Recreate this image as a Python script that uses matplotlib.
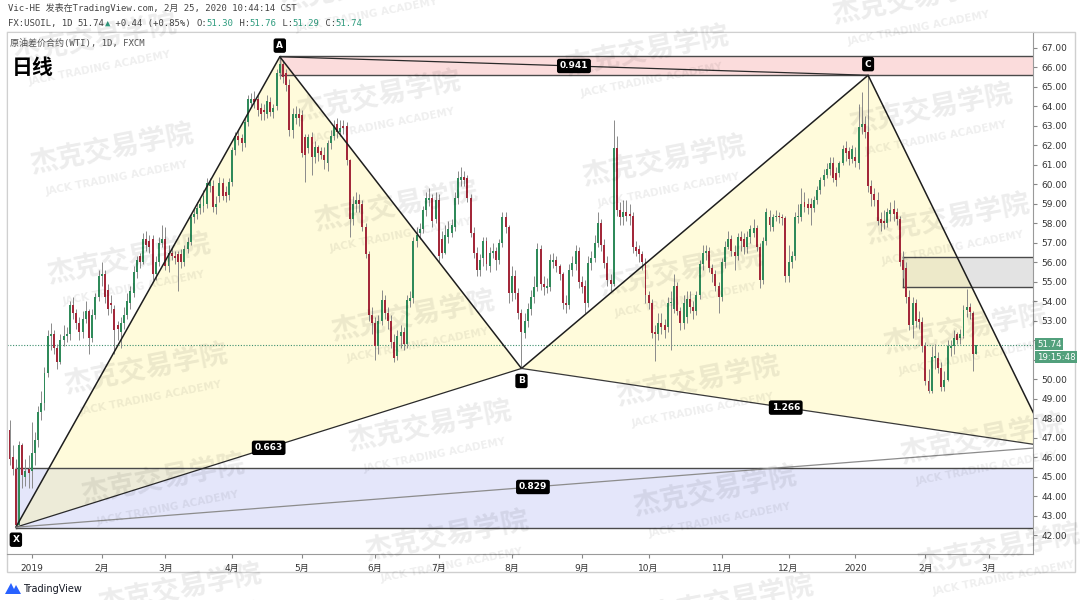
import numpy as np
import pandas as pd
import matplotlib
matplotlib.use("Agg")
import matplotlib.pyplot as plt
from matplotlib.patches import Polygon, Rectangle

plt.rcParams['font.family'] = ['DejaVu Sans', 'Noto Sans CJK SC']

# ---------------- daily OHLC, FX:USOIL ----------------
opens = [
    47.4, 46.0, 45.4, 42.5, 46.6, 45.0, 45.4,  # Dec 2018
    45.3, 46.2, 46.9, 48.3, 48.8, 50.3, 52.2, 52.3, 51.6, 50.9, 52.0, 52.2, 52.3, 53.8, 53.4, 52.9, 52.4, 53.1, 53.5, 52.1, 53.3, 54.2,
    55.3, 55.4, 54.6, 53.9, 53.6, 52.8, 52.4, 52.9, 53.3, 53.9, 54.4, 55.5, 56.3, 56.0, 57.2, 57.1, 57.2, 55.4, 56.0, 57.0,
    57.2, 55.8, 56.5, 56.3, 56.4, 56.4, 56.0, 56.7, 57.05, 58.3, 58.5, 58.8, 58.9, 59.0, 59.9, 59.9, 58.85, 59.4, 60.05, 59.6, 59.45,
    60.1, 61.76, 62.5, 62.4, 62.1, 63.2, 64.2, 64.4, 64.4, 63.9, 63.8, 63.6, 64.25, 63.7, 64.0, 65.7, 66.2, 65.7, 65.1, 62.8, 63.4, 63.6,
    63.56, 62.45, 61.85, 62.45, 61.4, 61.9, 61.7, 61.5, 61.1, 62.1, 62.5, 63.1, 62.7, 63.0, 63.0, 61.25, 58.2, 59.0, 59.2, 59.0, 57.8, 56.4, 53.3,
    52.9, 51.7, 53.0, 54.06, 53.4, 53.0, 51.9, 51.2, 52.2, 52.4, 51.8, 54.0, 54.15, 57.1, 57.5, 57.7, 58.7, 59.2, 59.3, 58.2,
    59.2, 57.2, 56.5, 57.3, 57.5, 57.8, 59.3, 60.2, 60.4, 60.3, 59.3, 57.5, 56.5, 55.6, 56.2, 57.1, 55.8, 56.5, 56.6, 56.1, 57.0, 58.3, 57.8,
    54.4, 55.3, 54.4, 53.4, 52.35, 53.0, 53.6, 54.2, 54.75, 56.7, 54.9, 54.7, 54.75, 56.0, 56.1, 55.8, 55.4, 53.9, 53.8, 55.6, 55.9, 56.6,
    55.0, 54.8, 53.9, 55.95, 56.2, 57.0, 58.0, 56.9, 55.95, 55.1, 54.9, 61.85, 58.7, 58.3, 58.6, 58.5, 58.4, 56.8, 56.7, 56.4, 56.0,
    54.3, 53.9, 52.4, 52.3, 52.9, 52.8, 52.7, 53.9, 53.6, 54.8, 53.5, 52.9, 53.2, 54.1, 53.7, 53.5, 54.3, 55.9, 56.5, 56.6, 55.7, 55.4, 54.8,
    54.2, 56.0, 56.8, 57.2, 56.55, 56.3, 57.3, 57.2, 56.8, 57.3, 57.5, 57.75, 56.8, 55.1, 57.1, 58.3, 57.8, 58.3, 58.4, 58.3, 58.25,
    55.3, 56.0, 56.3, 58.3, 58.3, 59.1, 59.0, 59.0, 58.8, 59.2, 59.7, 60.2, 60.5, 60.8, 61.1, 60.6, 60.6, 61.1, 61.85, 61.7, 61.3,
    61.4, 61.1, 62.95, 63.1, 62.7, 59.9, 59.5, 59.2, 58.2, 58.1, 58.0, 58.5, 58.75, 58.6, 58.2, 56.1, 55.7, 54.2, 52.8, 53.9, 53.1, 52.95,
    51.7, 49.9, 49.4, 51.1, 51.1, 50.55, 49.6, 49.95, 51.6, 51.7, 52.3, 52.1, 52.2, 53.55, 53.7, 53.4, 51.30,
]
highs = [
    47.9, 46.6, 45.9, 46.8, 46.7, 45.9, 46.1,
    47.8, 47.3, 48.6, 49.4, 50.6, 52.5, 52.9, 52.5, 51.8, 52.3, 52.8, 52.7, 54.0, 54.2, 53.6, 53.2, 53.5, 54.0, 53.6, 53.6, 54.4, 55.6,
    56.0, 55.6, 54.9, 54.3, 53.8, 53.0, 53.2, 53.7, 54.4, 54.8, 55.8, 56.3, 56.5, 57.5, 57.6, 57.4, 57.4, 56.3, 57.3, 57.9,
    57.8, 56.9, 56.8, 56.6, 56.6, 56.7, 56.9, 57.3, 58.5, 58.8, 59.1, 59.3, 59.7, 60.3, 60.3, 60.2, 59.4, 60.4, 60.3, 59.9, 60.3,
    61.9, 62.7, 62.8, 62.6, 63.4, 64.6, 64.7, 64.8, 64.6, 64.2, 64.1, 64.6, 64.5, 64.1, 65.9, 66.55, 66.4, 65.9, 65.4, 63.9, 64.0, 63.9,
    63.8, 62.6, 62.6, 62.7, 62.2, 62.0, 61.9, 61.9, 62.3, 62.8, 63.3, 63.4, 63.3, 63.3, 63.2, 61.3, 59.4, 59.6, 59.5, 59.2, 58.0, 56.6, 53.7,
    53.2, 53.3, 54.6, 54.3, 53.7, 53.3, 52.3, 52.5, 52.8, 52.7, 54.3, 54.5, 57.3, 57.8, 58.0, 58.9, 59.6, 59.8, 59.5, 59.6,
    59.5, 57.6, 57.9, 58.1, 58.2, 59.6, 60.7, 60.9, 60.7, 60.5, 59.5, 57.8, 56.8, 56.4, 57.3, 57.3, 56.8, 57.0, 56.8, 57.2, 58.6, 58.6, 57.9,
    55.8, 55.6, 54.7, 53.6, 53.4, 53.9, 54.6, 55.3, 57.0, 56.9, 55.3, 55.2, 56.4, 56.5, 56.3, 55.9, 55.5, 54.3, 55.9, 56.3, 56.9, 56.8,
    55.3, 55.1, 56.3, 56.6, 57.4, 58.6, 58.2, 57.2, 56.3, 55.4, 63.3, 62.5, 59.1, 59.2, 59.2, 59.0, 58.6, 57.1, 56.9, 56.6, 56.2,
    54.5, 54.1, 52.8, 53.4, 53.4, 53.1, 54.2, 54.5, 55.4, 55.0, 53.7, 54.3, 54.5, 54.5, 54.0, 54.5, 56.1, 56.9, 56.9, 56.8, 55.9, 55.6, 55.0,
    56.2, 57.1, 57.6, 57.4, 56.9, 57.5, 57.6, 57.5, 57.6, 57.9, 58.2, 57.9, 57.0, 57.3, 58.8, 58.7, 58.5, 58.7, 58.6, 58.5, 58.4,
    56.9, 56.6, 58.6, 59.0, 59.8, 59.6, 59.3, 59.3, 59.4, 59.9, 60.4, 60.8, 61.1, 61.4, 61.4, 60.9, 61.2, 62.0, 62.2, 61.9, 62.0,
    61.9, 64.1, 64.75, 63.5, 65.6, 60.2, 59.8, 59.6, 58.6, 58.7, 58.8, 59.1, 59.2, 58.8, 58.4, 56.6, 56.0, 54.6, 54.2, 54.1, 53.5, 53.2,
    51.9, 50.5, 51.7, 51.8, 51.4, 50.9, 50.4, 52.0, 52.0, 52.5, 52.4, 52.6, 53.8, 54.65, 53.9, 53.5, 51.76,
]
lows = [
    45.6, 45.1, 42.4, 42.6, 44.4, 44.5, 44.4,
    44.4, 45.6, 46.5, 47.9, 48.4, 50.1, 51.5, 51.3, 50.5, 50.8, 51.7, 51.9, 52.0, 53.1, 52.6, 52.0, 52.1, 52.9, 51.3, 51.9, 53.1, 54.0,
    54.8, 53.9, 53.3, 53.4, 51.3, 52.0, 51.6, 52.6, 53.1, 53.6, 54.2, 55.2, 55.7, 55.9, 56.6, 56.5, 55.1, 55.1, 55.8, 56.8,
    55.6, 55.5, 56.1, 55.9, 54.5, 55.7, 55.8, 56.5, 56.9, 58.0, 58.2, 58.5, 58.6, 58.8, 59.6, 58.6, 58.5, 59.1, 59.2, 59.1, 59.2,
    59.9, 61.5, 62.0, 61.7, 61.9, 63.0, 64.0, 63.9, 63.5, 63.3, 63.3, 63.4, 63.5, 63.4, 63.8, 65.4, 65.2, 64.8, 62.5, 62.4, 63.1, 63.0,
    61.4, 60.1, 61.6, 60.5, 61.1, 61.2, 61.3, 60.8, 60.7, 61.8, 62.3, 62.4, 62.5, 62.6, 61.0, 57.3, 57.9, 58.6, 58.6, 57.6, 56.2, 53.0, 52.3,
    51.0, 51.3, 52.8, 53.1, 52.6, 51.6, 50.9, 51.0, 51.6, 51.5, 51.6, 53.7, 53.9, 56.8, 57.2, 57.5, 58.4, 58.9, 57.8, 58.0,
    56.0, 56.2, 56.4, 57.0, 57.3, 57.6, 59.0, 59.9, 59.9, 59.1, 57.3, 56.2, 55.3, 55.3, 55.8, 55.6, 55.5, 56.2, 55.6, 55.9, 56.8, 57.5, 53.9,
    54.0, 54.1, 53.1, 50.55, 52.1, 52.7, 53.3, 53.9, 54.5, 54.6, 54.3, 54.4, 54.5, 55.7, 55.5, 55.1, 53.6, 53.4, 53.6, 55.3, 55.6, 54.7,
    54.4, 53.4, 53.7, 55.6, 56.0, 56.8, 56.6, 55.7, 54.8, 54.5, 54.8, 58.4, 57.9, 57.9, 58.1, 57.9, 56.5, 56.3, 56.0, 55.6, 53.9,
    53.6, 52.1, 50.95, 52.0, 52.3, 52.1, 52.4, 51.5, 53.4, 53.3, 52.5, 52.6, 52.9, 53.4, 53.1, 53.3, 54.1, 55.6, 56.1, 55.5, 55.0, 54.5, 53.4,
    54.0, 55.7, 56.7, 56.3, 55.6, 56.1, 56.6, 56.4, 56.5, 57.0, 57.3, 56.6, 54.7, 54.9, 56.9, 57.6, 57.6, 58.1, 58.0, 57.9, 55.0,
    55.0, 55.7, 56.1, 58.0, 58.1, 58.6, 58.5, 57.9, 58.6, 59.0, 59.5, 59.9, 60.3, 60.5, 60.1, 59.9, 60.4, 61.0, 61.2, 61.0, 61.1,
    60.9, 60.8, 62.6, 62.4, 59.6, 58.9, 58.9, 57.9, 57.6, 57.7, 57.8, 58.1, 58.1, 57.9, 55.8, 55.2, 53.9, 52.5, 52.1, 52.7, 52.6, 51.4,
    49.7, 49.3, 49.3, 50.5, 50.3, 49.4, 49.4, 49.9, 51.2, 51.3, 51.8, 51.8, 52.1, 53.2, 53.1, 50.4, 51.29,
]
closes = [
    45.9, 45.4, 42.5, 46.6, 45.1, 45.3, 45.2,
    46.2, 46.9, 48.3, 48.8, 50.3, 52.2, 52.3, 51.6, 50.9, 52.0, 52.2, 52.3, 53.8, 53.4, 52.9, 52.4, 53.1, 53.5, 52.1, 53.3, 54.2, 55.3,
    55.4, 54.2, 53.6, 53.8, 52.5, 52.6, 52.9, 53.3, 54.0, 54.5, 55.5, 56.1, 56.0, 57.2, 56.9, 56.8, 55.4, 56.0, 57.0, 57.2,
    55.8, 56.5, 56.3, 56.2, 56.0, 56.0, 56.7, 57.05, 58.3, 58.5, 58.8, 59.0, 59.4, 60.05, 60.1, 58.85, 59.0, 60.05, 59.4, 59.4, 60.1,
    61.76, 62.5, 62.3, 62.1, 63.2, 64.4, 64.4, 64.25, 63.8, 63.6, 63.7, 64.3, 63.7, 63.9, 65.7, 66.2, 65.5, 65.1, 62.8, 63.6, 63.6, 63.4,
    61.6, 61.5, 62.45, 61.4, 61.9, 61.6, 61.5, 61.25, 62.1, 62.5, 63.0, 62.7, 62.9, 62.9, 61.25, 58.2, 59.0, 59.2, 59.0, 57.8, 56.4, 53.3, 52.9,
    51.7, 53.0, 54.06, 53.4, 53.0, 51.9, 51.1, 52.2, 52.4, 51.8, 54.06, 54.15, 57.1, 57.4, 57.7, 58.7, 59.3, 59.3, 58.1, 59.2,
    56.3, 56.5, 57.4, 57.7, 57.9, 59.3, 60.3, 60.4, 60.2, 59.3, 57.5, 56.5, 55.6, 56.1, 57.1, 55.9, 56.5, 56.6, 56.1, 57.0, 58.3, 57.8, 54.4,
    55.3, 54.4, 53.4, 52.4, 53.0, 53.6, 54.2, 54.75, 56.7, 54.9, 54.75, 54.8, 56.1, 56.1, 55.8, 55.4, 53.9, 53.8, 55.6, 55.95, 56.6, 55.0,
    54.75, 53.9, 55.95, 56.2, 57.0, 58.0, 56.9, 55.95, 55.1, 54.9, 61.85, 58.7, 58.3, 58.6, 58.4, 58.4, 56.8, 56.6, 56.4, 56.0, 54.3,
    53.9, 52.35, 52.3, 52.9, 52.7, 52.5, 53.9, 53.9, 54.8, 53.5, 52.9, 53.9, 54.1, 53.7, 53.5, 54.3, 55.9, 56.5, 56.6, 55.7, 55.4, 54.8, 54.2,
    56.0, 56.8, 57.2, 56.6, 56.3, 57.3, 57.1, 56.8, 57.3, 57.7, 57.75, 56.8, 55.1, 57.1, 58.6, 57.9, 58.3, 58.4, 58.3, 58.25, 55.3,
    56.0, 56.3, 58.3, 58.4, 59.0, 58.85, 58.8, 58.8, 59.2, 59.7, 60.2, 60.5, 60.8, 61.1, 60.3, 60.2, 61.1, 61.8, 61.6, 61.3, 61.8,
    61.2, 62.95, 63.1, 62.7, 59.9, 59.5, 59.2, 58.1, 58.0, 58.0, 58.6, 58.7, 58.5, 58.2, 56.0, 55.6, 54.2, 52.8, 53.9, 53.0, 52.95, 51.7,
    49.9, 49.4, 51.15, 51.2, 50.55, 49.6, 49.95, 51.7, 51.7, 52.1, 52.0, 52.3, 53.55, 53.7, 53.45, 51.3, 51.74,
]

# XABCD pattern (bar index, price) and ratios
pat_names = ['X', 'A', 'B', 'C', 'D']
pat_idx = [2, 85, 161, 270, 327.2]
pat_price = [42.40, 66.55, 50.55, 65.60, 46.53]
ratio_pairs = [(0, 2), (1, 3), (2, 4), (0, 4)]
ratio_text = ['0.663', '0.941', '1.266', '0.829']

# rectangles drawn on the chart
zone_start = [2, 85, 281]
zone_low = [42.36, 65.62, 54.74]
zone_high = [45.43, 66.58, 56.26]
zone_color = ['#a7aef0', '#f6a5a5', '#bdbdbd']
zone_alpha = [0.3, 0.38, 0.42]

holidays = pd.to_datetime(['2018-12-25', '2019-01-01', '2019-12-25', '2020-01-01'])
days = pd.bdate_range('2018-12-20', '2020-03-31')
days = days[~days.isin(holidays)]

o = np.array(opens)
h = np.array(highs)
l = np.array(lows)
c = np.array(closes)
n = len(c)
xi = np.arange(n)

W, H = 1080, 600
fig = plt.figure(figsize=(W / 100, H / 100), dpi=100)

bg = fig.add_axes([0, 0, 1, 1], zorder=-1)
bg.set_xlim(0, W)
bg.set_ylim(H, 0)
bg.axis('off')

ax = fig.add_axes([7 / W, 1 - 554 / H, 1026 / W, 522 / H])
ax.set_xlim(-0.79, 321.86)
ax.set_ylim(41.025, 67.82)

# zones
for s, lo, hi, col, al in zip(zone_start, zone_low, zone_high, zone_color, zone_alpha):
    ax.add_patch(Rectangle((s, lo), 400, hi - lo, fc=col, alpha=al, ec='none', zorder=1))
    ax.plot([s, 400], [lo, lo], color='#4a4a4a', lw=1, zorder=1.5)
    ax.plot([s, 400], [hi, hi], color='#4a4a4a', lw=1, zorder=1.5)
    ax.plot([s, s], [lo, hi], color='#4a4a4a', lw=1, zorder=1.5)

# pattern fills
px_ = np.array(pat_idx)
py_ = np.array(pat_price)
ax.add_patch(Polygon(np.c_[px_[:3], py_[:3]], closed=True, fc='#fff59d', alpha=0.36, ec='none', zorder=1.2))
ax.add_patch(Polygon(np.c_[px_[2:], py_[2:]], closed=True, fc='#fff59d', alpha=0.36, ec='none', zorder=1.2))

# last price line
ax.axhline(c[-1], color='#3d8f6f', lw=0.8, ls=(0, (1, 1.5)), zorder=2)

# candles
up = c >= o
ax.vlines(xi, l, h, color='#8a8a8a', lw=0.7, zorder=3)
ax.bar(xi, np.maximum(np.abs(c - o), 0.05), bottom=np.minimum(o, c), width=0.62,
       color=np.where(up, '#2f8a5a', '#a3283a'), zorder=4)

# pattern lines
ax.plot(px_, py_, color='#1e1e1e', lw=1.1, zorder=6)
ratio_col = ['#2a2a2a', '#2a2a2a', '#3a3a3a', '#8c8c8c']
for (i, j), txt, lc in zip(ratio_pairs, ratio_text, ratio_col):
    ax.plot([px_[i], px_[j]], [py_[i], py_[j]], color=lc, lw=0.9, zorder=6)
    ax.text((px_[i] + px_[j]) / 2, (py_[i] + py_[j]) / 2, txt, ha='center', va='center',
            color='white', fontsize=6.5, fontweight='bold', zorder=7,
            bbox=dict(boxstyle='round,pad=0.3,rounding_size=0.25', fc='black', ec='none'))

tag_dy = [-9, 8, -9, 8]
for name, xx, yy, dy in zip(pat_names[:4], px_[:4], py_[:4], tag_dy):
    ax.annotate(name, (xx, yy), xytext=(0, dy), textcoords='offset points', ha='center', va='center',
                color='white', fontsize=6.5, fontweight='bold', zorder=8, annotation_clip=False,
                bbox=dict(boxstyle='round,pad=0.3,rounding_size=0.25', fc='black', ec='none'))

# axes styling
for side in ['left', 'top']:
    ax.spines[side].set_color('#d0d0d0')
for side in ['right', 'bottom']:
    ax.spines[side].set_color('#9a9a9a')
ax.yaxis.tick_right()
yt = np.arange(42, 68)
ax.set_yticks(yt)
# the 51 / 52 labels sit under the last-price tags, as in the original
ax.set_yticklabels(['' if v in (51, 52) else f'{v:.2f}' for v in yt])
ax.tick_params(axis='y', length=3, width=0.8, color='#888888', labelsize=6.5, labelcolor='#333333', pad=3)

firsts = pd.Series(np.arange(len(days)), index=days)
firsts = firsts.groupby([days.year, days.month]).first()
mpos, mlab = [], []
for (yr, mo), pos in firsts.items():
    if yr == 2018:
        continue
    mpos.append(pos)
    mlab.append(str(yr) if mo == 1 else f'{mo}月')
ax.set_xticks(mpos)
ax.set_xticklabels(mlab)
ax.tick_params(axis='x', length=3, width=0.8, color='#888888', labelsize=6.5, labelcolor='#333333', pad=4)

# current price tags
ytr = ax.get_yaxis_transform()
ax.annotate(f'{c[-1]:.2f}', xy=(1, c[-1]), xycoords=ytr, xytext=(4, 1), textcoords='offset pixels',
            ha='left', va='center', fontsize=6.2, color='white', annotation_clip=False, zorder=9,
            bbox=dict(boxstyle='square,pad=0.18', fc='#52a07c', ec='none'))
ax.annotate('19:15:48', xy=(1, c[-1]), xycoords=ytr, xytext=(4, -12), textcoords='offset pixels',
            ha='left', va='center', fontsize=6.2, color='white', annotation_clip=False, zorder=9,
            bbox=dict(boxstyle='square,pad=0.18', fc='#52a07c', ec='none'))

# frame around chart + time axis
bg.add_patch(Rectangle((7, 32), 1068, 540, fill=False, ec='#cfcfcf', lw=1))

mono = ['DejaVu Sans Mono', 'Noto Sans CJK SC']
bg.text(8, 8, 'Vic-HE 发表在TradingView.com, 2月 25, 2020 10:44:14 CST', fontsize=6.5,
        color='#444444', family=mono, va='center', ha='left')

green = '#2f9c7f'
dark = '#444444'
parts = [('FX:USOIL, 1D ', dark), (f'{c[-1]:.2f}', dark), ('▲', green),
         (f' +{c[-1] - c[-2] + 0.0:.2f} (+0.85%) ', dark), ('O:', dark), (f'{o[-1]:.2f}', green),
         (' H:', dark), (f'{h[-1]:.2f}', green), (' L:', dark), (f'{l[-1]:.2f}', green),
         (' C:', dark), (f'{c[-1]:.2f}', green)]
prev = bg.text(8, 28, parts[0][0], fontsize=6.5, color=parts[0][1], family=mono, va='bottom', ha='left')
for s, col in parts[1:]:
    prev = bg.annotate(s, xy=(1, 0), xycoords=prev, fontsize=6.5, color=col, family=mono,
                       va='bottom', ha='left')

fig.text(10 / W, 1 - 43 / H, '原油差价合约(WTI), 1D, FXCM', fontsize=6.5, color='#555555', family=mono,
         va='center', ha='left')
fig.text(12 / W, 1 - 68 / H, '日线', fontsize=15, fontweight='bold', color='black',
         family=['Noto Sans CJK SC', 'DejaVu Sans'], va='center', ha='left')

# TradingView logo
bg.add_patch(Polygon([[5, 594], [11, 583], [14, 589], [16, 585], [21, 594]], closed=True,
                     fc='#2962ff', ec='none'))
bg.text(23, 588.5, 'TradingView', fontsize=7, color='#131722', va='center', ha='left')

# watermark
wm_col_y = [150, 97, 162, 110]
for ci, yb in enumerate(wm_col_y):
    for k in range(-1, 5):
        yy = yb + 110 * k
        xx = 112 + 275 * ci + 0.155 * (yy - 150)
        fig.text(xx / W, 1 - yy / H, '杰克交易学院', fontsize=20, fontweight='bold',
                 family=['Noto Sans CJK SC'], color='black', alpha=0.075,
                 rotation=11, rotation_mode='anchor', ha='center', va='center', zorder=10)
        fig.text((xx + 5) / W, 1 - (yy + 28) / H, 'JACK TRADING ACADEMY', fontsize=7.5,
                 fontweight='bold', color='black', alpha=0.065,
                 rotation=11, rotation_mode='anchor', ha='center', va='center', zorder=10)

fig.savefig('out.png', dpi=100)
